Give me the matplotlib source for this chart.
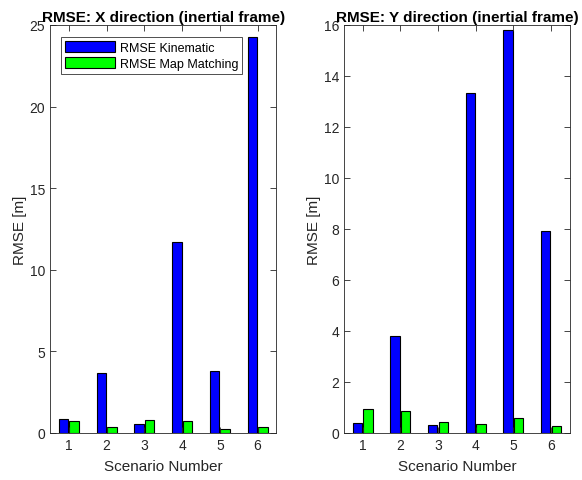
import numpy as np
import matplotlib
matplotlib.use("Agg")
from matplotlib import pyplot as plt

scenarios = [1, 2, 3, 4, 5, 6]
x_kin = [0.86, 3.67, 0.55, 11.67, 3.79, 24.27]
x_mm = [0.73, 0.37, 0.80, 0.75, 0.25, 0.37]
y_kin = [0.38, 3.80, 0.30, 13.35, 15.80, 7.90]
y_mm = [0.93, 0.86, 0.43, 0.35, 0.58, 0.28]

plt.rcParams['font.family'] = ['Liberation Sans', 'DejaVu Sans']

fig = plt.figure(figsize=(5.82, 4.81), dpi=100)
ax1 = fig.add_axes([0.086, 0.098, 0.389, 0.848])
ax2 = fig.add_axes([0.591, 0.098, 0.388, 0.848])

pos = np.array(scenarios)
w = 0.25
for ax, kin, mm, title, ymax, yt in [
    (ax1, x_kin, x_mm, "RMSE: X direction (inertial frame)", 25, [0, 5, 10, 15, 20, 25]),
    (ax2, y_kin, y_mm, "RMSE: Y direction (inertial frame)", 16, [0, 2, 4, 6, 8, 10, 12, 14, 16]),
]:
    ax.bar(pos - 0.14, kin, w, color="#0000ff", edgecolor="black", linewidth=0.8,
           label="RMSE Kinematic")
    ax.bar(pos + 0.14, mm, w, color="#00ff00", edgecolor="black", linewidth=0.8,
           label="RMSE Map Matching")
    ax.set_xlim(0.5, 6.5)
    ax.set_ylim(0, ymax)
    ax.set_xticks(scenarios)
    ax.set_yticks(yt)
    ax.tick_params(direction="in", top=True, right=True, length=4, labelsize=10,
                   colors="#262626", width=0.6)
    for s in ax.spines.values():
        s.set_color("#262626")
        s.set_linewidth(0.6)
    ax.set_xlabel("Scenario Number", fontsize=11, color="#262626", labelpad=5)
    ax.set_ylabel("RMSE [m]", fontsize=11, color="#262626", labelpad=2)
    ax.set_title(title, fontsize=11, fontweight="bold", pad=3)

leg = ax1.legend(loc="upper left", fontsize=9, frameon=True, fancybox=False,
                 edgecolor="black", handlelength=4.0, handleheight=1.0,
                 borderpad=0.3, labelspacing=0.25, handletextpad=0.4,
                 bbox_to_anchor=(0.022, 0.985))
leg.get_frame().set_linewidth(0.6)

fig.savefig("out.png", dpi=100)
